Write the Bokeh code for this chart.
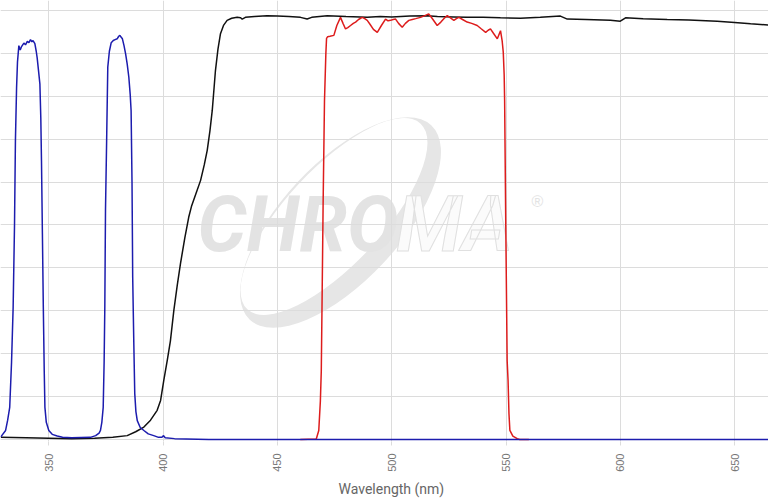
import numpy as np
from bokeh.plotting import figure
from bokeh.models import Range1d, SingleIntervalTicker, Title
from bokeh.core.properties import value
from bokeh.embed import file_html
from bokeh.resources import INLINE

# ---------------- data (wavelength nm, transmission %) ----------------
blue_nm = [329.0, 331.1, 332.0, 332.9, 333.7, 334.4, 335.0, 335.4, 335.9, 336.3, 336.9, 337.5,
           338.0, 339.1, 339.8, 340.6, 341.3, 342.0, 342.6, 343.1, 343.9, 344.5, 344.9, 345.5,
           346.1, 346.5, 346.8, 347.2, 347.6, 348.0, 348.3, 348.9, 350.0, 351.5, 353.7, 356.0,
           360.0, 368.2, 370.5, 372.0, 372.6, 373.2, 373.8, 374.2, 374.5, 374.8, 375.3, 375.8,
           376.5, 377.3, 378.2, 379.0, 379.9, 380.6, 381.1, 381.6, 382.2, 382.9, 383.6, 384.3,
           385.0, 385.6, 386.0, 386.4, 386.7, 387.2, 387.6, 388.1, 388.7, 390.0, 391.6, 393.5,
           395.9, 398.0, 399.5, 400.2, 400.9, 405.0, 420.0, 500.0, 600.0, 665.0]
blue_t = [0.6, 2.1, 4.5, 7.5, 18.0, 30.8, 50.0, 69.7, 82.0, 88.0, 91.8, 90.8,
          91.5, 92.4, 92.0, 92.8, 92.5, 93.2, 92.7, 93.0, 92.3, 90.5, 89.0, 86.0,
          82.9, 75.0, 65.0, 48.0, 30.8, 16.0, 7.5, 4.0, 2.1, 1.2, 0.8, 0.5,
          0.4, 0.5, 0.9, 1.5, 2.1, 4.0, 7.5, 18.0, 30.8, 53.4, 69.7, 86.8,
          90.5, 92.5, 93.0, 93.2, 93.4, 94.0, 94.2, 93.8, 93.4, 91.8, 89.9, 87.5,
          84.5, 80.5, 76.7, 60.0, 37.8, 22.0, 10.7, 6.5, 4.4, 2.8, 2.1, 1.3,
          0.9, 0.5, 0.5, 0.9, 0.4, 0.2, 0.0, 0.0, 0.0, 0.0]

black_nm = [329.0, 340.0, 350.0, 360.0, 370.0, 378.0, 384.3, 388.0, 391.6, 394.5, 397.4, 398.9,
            400.3, 401.8, 403.2, 404.7, 406.2, 407.6, 409.5, 411.2, 412.5, 414.5, 416.4, 418.0,
            419.3, 420.5, 421.5, 422.3, 422.9, 424.0, 425.1, 426.5, 428.0, 430.0, 432.4, 433.9,
            434.6, 436.0, 440.0, 445.5, 450.0, 455.0, 460.1, 463.0, 465.0, 471.8, 480.0, 489.3,
            495.0, 500.0, 508.0, 515.5, 520.0, 527.0, 533.0, 540.0, 547.6, 556.3, 565.0, 573.8,
            576.8, 585.0, 595.7, 600.0, 602.3, 610.0, 620.5, 630.0, 642.4, 650.0, 657.0, 665.0]
black_t = [0.5, 0.4, 0.3, 0.2, 0.3, 0.5, 0.9, 1.8, 2.9, 4.5, 6.8, 9.1,
           13.8, 18.4, 23.0, 30.1, 36.0, 41.0, 47.0, 51.8, 54.5, 57.5, 60.4, 64.0,
           67.4, 72.0, 76.7, 82.0, 86.0, 91.0, 94.6, 96.6, 97.7, 98.2, 98.4, 98.3,
           98.0, 98.4, 98.6, 98.8, 98.7, 98.6, 98.4, 98.0, 98.4, 98.8, 98.6, 98.4,
           98.6, 98.5, 98.7, 98.8, 98.6, 98.5, 98.4, 98.4, 98.3, 98.2, 98.4, 98.7,
           98.0, 97.9, 97.7, 97.5, 98.3, 98.1, 97.9, 97.8, 97.5, 97.2, 96.9, 96.6]

red_nm = [460.0, 467.0, 468.1, 468.8, 469.2, 469.6, 470.0, 470.6, 471.2, 471.5, 472.0, 473.0,
          474.7, 476.0, 477.6, 478.7, 479.8, 480.8, 482.0, 483.2, 484.2, 485.5, 487.1, 488.2,
          489.3, 490.5, 492.0, 493.7, 495.5, 497.3, 498.4, 499.5, 500.6, 501.7, 503.0, 504.6,
          506.0, 507.5, 509.0, 510.5, 512.6, 514.5, 516.2, 517.5, 519.9, 521.5, 523.0, 524.3,
          525.7, 527.2, 528.3, 529.4, 531.0, 533.0, 535.0, 537.4, 539.0, 541.1, 542.2, 543.2,
          544.5, 546.2, 547.6, 548.3, 548.8, 549.2, 549.4, 549.9, 550.5, 550.9, 551.3, 551.7,
          553.0, 554.9, 556.0, 560.0]
red_t = [0.0, 0.1, 2.1, 9.0, 16.0, 35.0, 55.0, 79.0, 90.0, 93.5, 93.9, 94.0,
         94.2, 96.5, 98.4, 97.0, 95.7, 96.0, 96.5, 97.0, 97.3, 97.9, 98.4, 98.1,
         97.7, 96.8, 95.6, 94.9, 96.5, 98.0, 97.6, 97.7, 97.9, 98.0, 97.0, 96.1,
         97.0, 97.7, 97.9, 98.1, 98.4, 98.8, 99.2, 98.3, 96.5, 97.3, 98.2, 98.8,
         98.3, 97.7, 98.1, 98.4, 97.9, 97.3, 97.0, 96.5, 95.8, 94.9, 95.4, 95.7,
         94.7, 93.4, 95.3, 93.0, 90.3, 85.0, 79.0, 50.0, 18.4, 13.8, 6.0, 2.1,
         0.8, 0.2, 0.0, 0.0]

x_ticks_interval = 50
y_grid_interval = 10
x_label = "Wavelength (nm)"

# ---------------- figure ----------------
p = figure(width=768, height=501, output_backend="svg", toolbar_location=None,
           x_range=Range1d(328.87, 664.83), y_range=Range1d(-0.47, 102.33),
           min_border_left=0, min_border_right=0, min_border_top=0, min_border_bottom=60,
           outline_line_color=None, background_fill_color="white", border_fill_color="white")

p.yaxis.visible = False
p.xaxis.ticker = SingleIntervalTicker(interval=x_ticks_interval)
p.xgrid.ticker = SingleIntervalTicker(interval=x_ticks_interval)
p.ygrid.ticker = SingleIntervalTicker(interval=y_grid_interval)
p.xgrid.grid_line_color = "#dcdcdc"
p.ygrid.grid_line_color = "#dcdcdc"
p.xaxis.axis_line_color = None
p.xaxis.major_tick_line_color = "#dcdcdc"
p.xaxis.major_tick_out = 4
p.xaxis.major_tick_in = 0
p.xaxis.minor_tick_line_color = None
p.xaxis.major_label_orientation = np.pi / 2
p.xaxis.major_label_standoff = 8
p.xaxis.major_label_text_font = "Liberation Sans"
p.xaxis.major_label_text_font_size = "11px"
p.xaxis.major_label_text_color = "#777777"

p.add_layout(Title(text=x_label, align="left", offset=338, standoff=8,
                   text_font="Roboto", text_font_size="14px", text_font_style="normal",
                   text_color="#666666"), "below")

# ---------------- watermark (below grid) ----------------
def px_to_nm(px):
    return 350 + (px - 48.3) / 2.286

def py_to_t(py):
    return (439 - py) / 4.29

p.ellipse(x=[px_to_nm(340)], y=[py_to_t(222)], width=266, height=118,
          width_units="screen", height_units="screen", angle=0.82,
          fill_color="#e6e6e6", line_color=None, level="image")
p.ellipse(x=[px_to_nm(333.5)], y=[py_to_t(216)], width=254, height=96,
          width_units="screen", height_units="screen", angle=0.82,
          fill_color="white", line_color=None, level="image")
p.text(x=[px_to_nm(398)], y=[py_to_t(225)], text=["CHRO"], text_align="right",
       text_baseline="middle", text_font=value("Roboto"),
       text_font_style="bold italic", text_font_size="77px", text_color="#e3e3e3",
       level="image")
p.text(x=[px_to_nm(396)], y=[py_to_t(225)], text=["MA"], text_align="left",
       text_baseline="middle", text_font=value("Roboto"),
       text_font_style="bold italic", text_font_size="77px", text_color="#fbfbfb",
       text_outline_color="#e0e0e0", level="image")
p.text(x=[px_to_nm(531)], y=[py_to_t(201)], text=["®"], text_align="left",
       text_baseline="middle", text_font=value("Liberation Sans"),
       text_font_size="16px", text_color="#e3e3e3", level="image")

# ---------------- curves ----------------
p.line(black_nm, black_t, line_color="#111111", line_width=1.5)
p.line(red_nm, red_t, line_color="#dd1c1c", line_width=1.5)
p.line(blue_nm, blue_t, line_color="#1c1cae", line_width=1.5)

open("out.html", "w").write(file_html(p, INLINE))
